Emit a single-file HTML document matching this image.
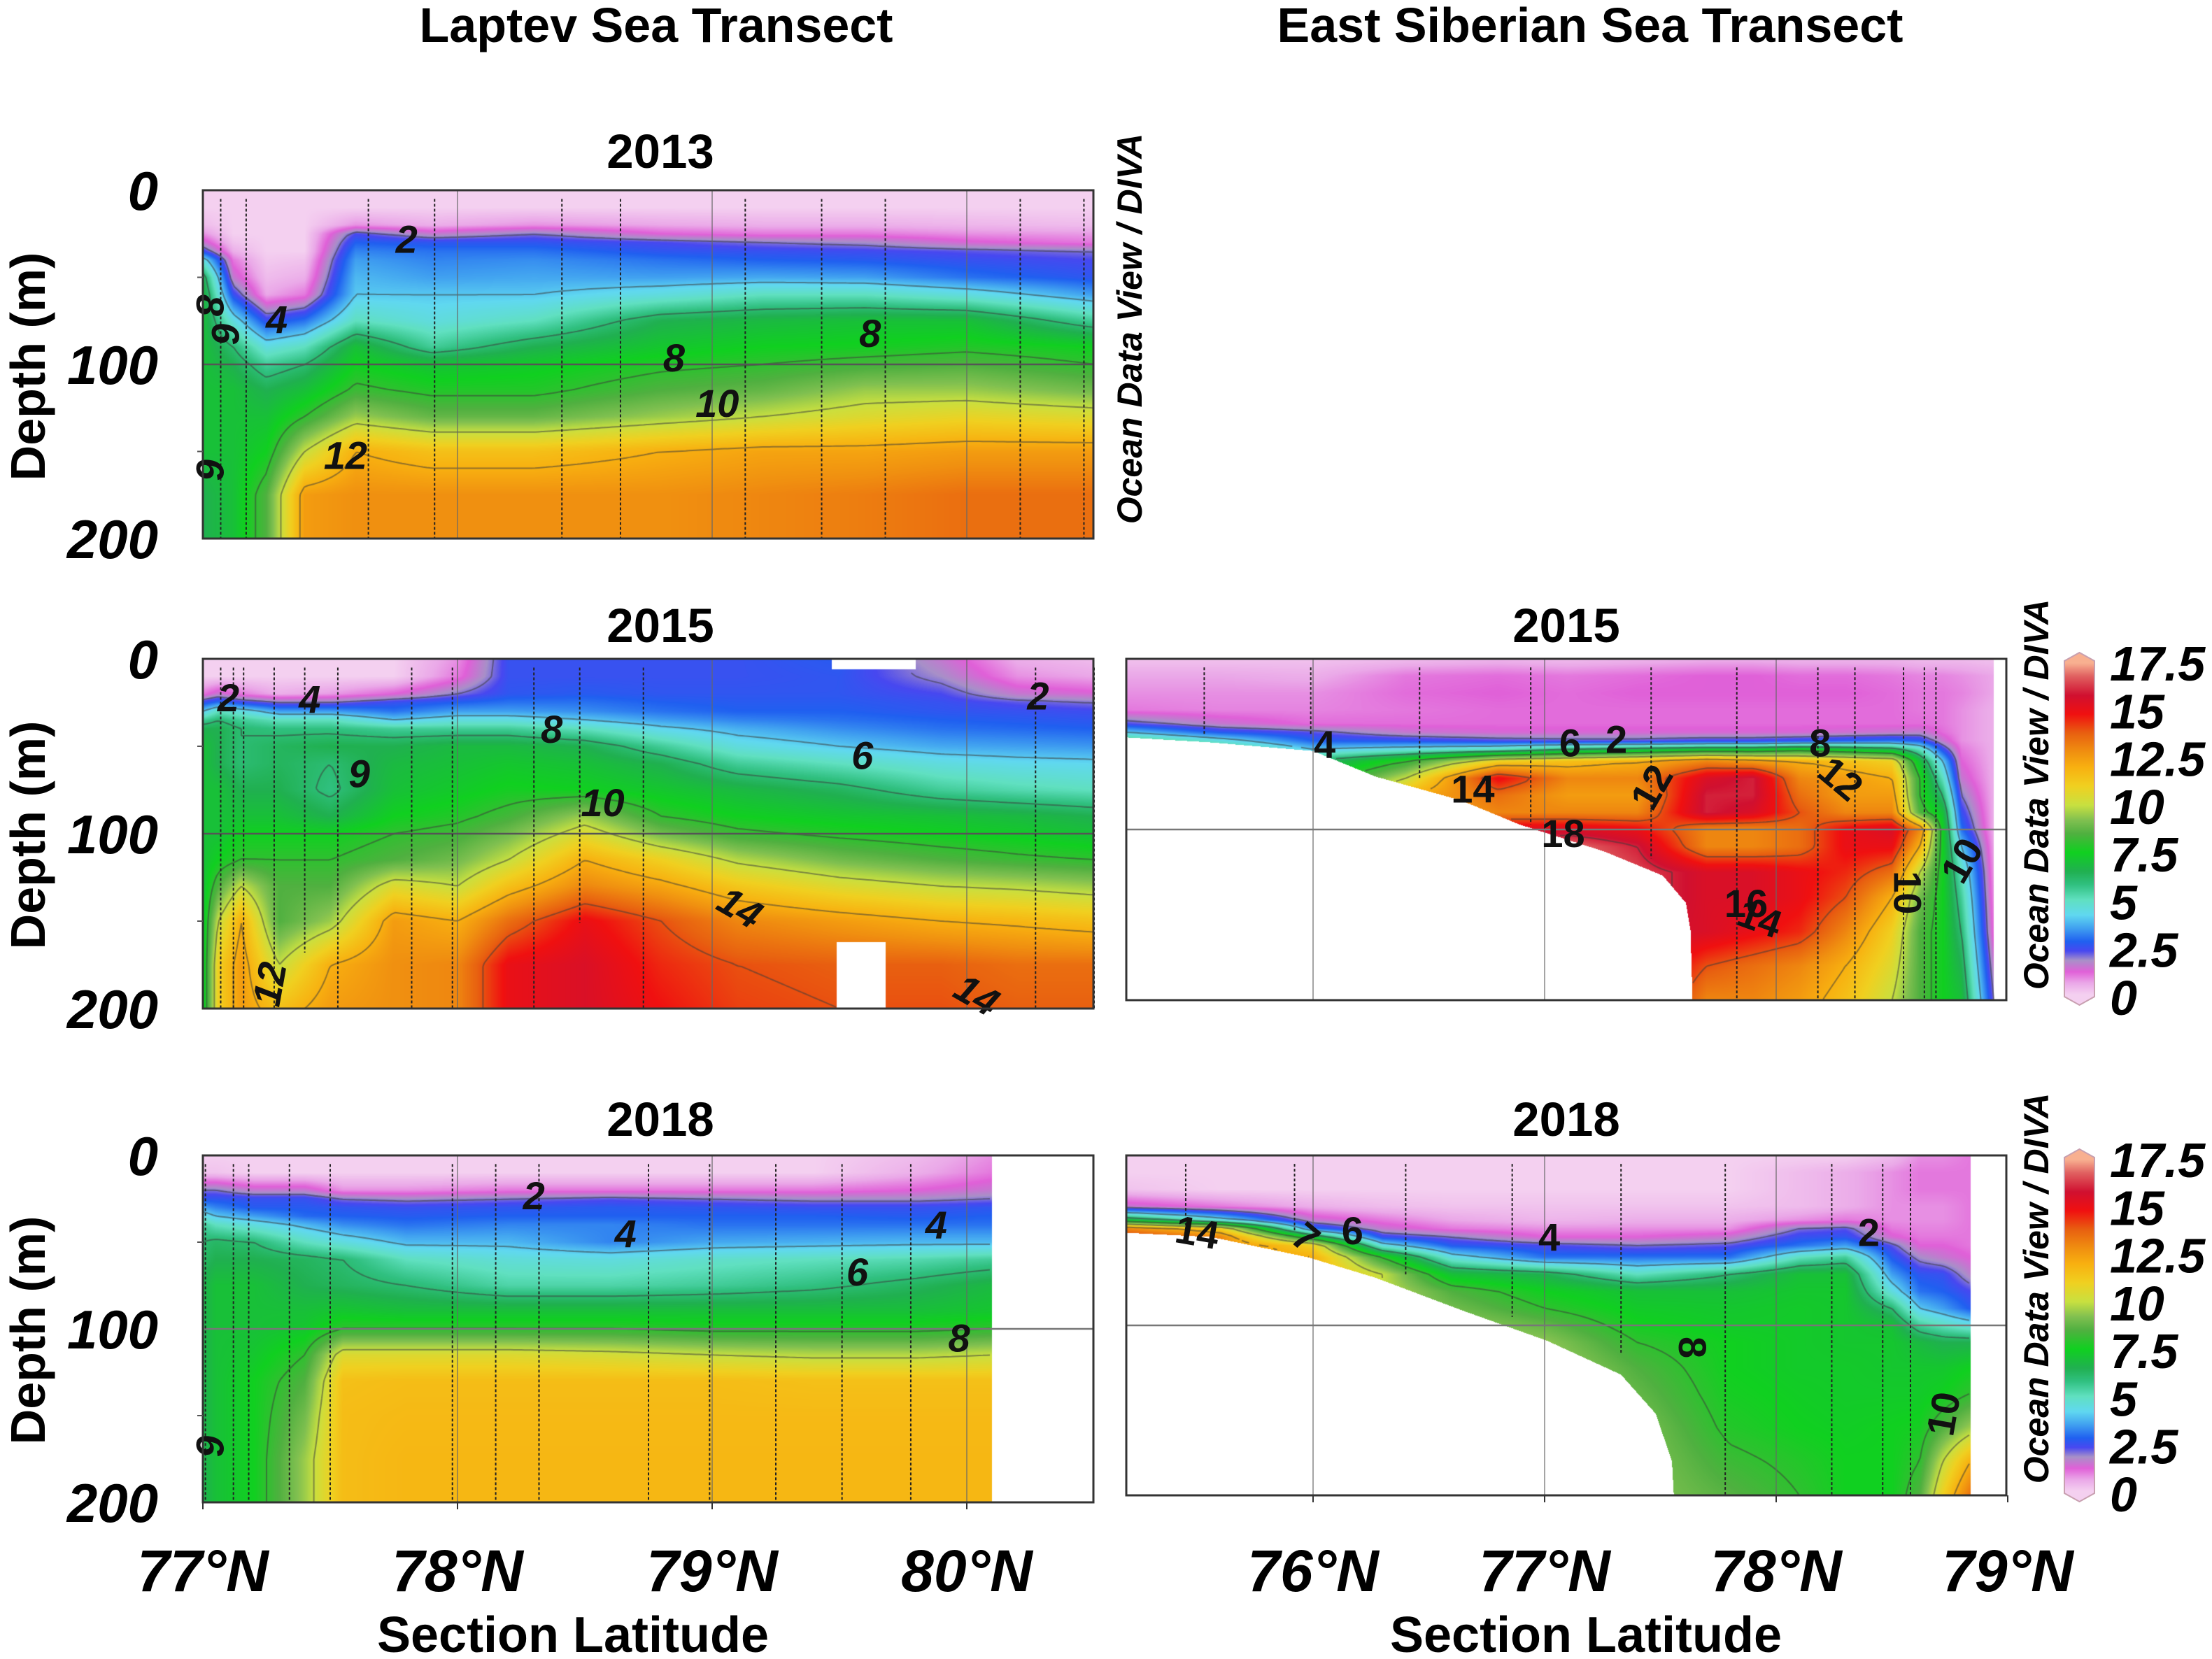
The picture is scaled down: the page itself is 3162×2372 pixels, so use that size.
<!DOCTYPE html>
<html><head><meta charset="utf-8">
<style>
html,body{margin:0;padding:0;background:#fff;}
#root{position:relative;width:3162px;height:2372px;overflow:hidden;background:#fff;font-family:"Liberation Sans",sans-serif;}
canvas{position:absolute;}
svg{position:absolute;left:0;top:0;}
</style></head>
<body>
<div id="root">
<svg id="ov" width="3162" height="2372" viewBox="0 0 3162 2372">
<defs>
<linearGradient id="cbg" x1="0" y1="1" x2="0" y2="0"></linearGradient>
</defs>
<g font-family="Liberation Sans, sans-serif" font-weight="bold" fill="#000">
<text x="938" y="60" font-size="70" text-anchor="middle">Laptev Sea Transect</text>
<text x="2273" y="60" font-size="70" text-anchor="middle">East Siberian Sea Transect</text>
<text x="944" y="240" font-size="69" text-anchor="middle">2013</text>
<text x="944" y="918" font-size="69" text-anchor="middle">2015</text>
<text x="2239" y="918" font-size="69" text-anchor="middle">2015</text>
<text x="944" y="1624" font-size="69" text-anchor="middle">2018</text>
<text x="2239" y="1624" font-size="69" text-anchor="middle">2018</text>
<text transform="translate(64,524) rotate(-90)" font-size="70" text-anchor="middle">Depth (m)</text>
<text transform="translate(64,1194) rotate(-90)" font-size="70" text-anchor="middle">Depth (m)</text>
<text transform="translate(64,1902) rotate(-90)" font-size="70" text-anchor="middle">Depth (m)</text>
<text x="819" y="2362" font-size="72" text-anchor="middle">Section Latitude</text>
<text x="2267" y="2362" font-size="72" text-anchor="middle">Section Latitude</text>
<g font-style="italic" font-size="50">
<text transform="translate(1632,470) rotate(-90)" text-anchor="middle">Ocean Data View / DIVA</text>
<text transform="translate(2928,1136) rotate(-90)" text-anchor="middle">Ocean Data View / DIVA</text>
<text transform="translate(2928,1842) rotate(-90)" text-anchor="middle">Ocean Data View / DIVA</text>
</g>
</g>
<g id="dyn"></g>
</svg>
</div>
<script>
// ---------- data ----------
const depthsL=[0,10,20,25,30,35,40,50,60,75,90,100,115,130,150,175,200];
const depthsE=[0,10,20,30,38,43,48,53,60,70,80,90,100,110,125,140,160,180,200];

const lats13=[77.0,77.12,77.25,77.4,77.6,77.9,78.3,78.8,79.2,79.6,80.0,80.5];
const temp13=[
[0,0,0,0,0,0,0,0,0,0,0,0],
[0,0,0,0,0,0,0,0,0,0,0,0],
[0.3,0,0,0,0.8,0.5,0.8,0.6,0.5,0.5,0.4,0.3],
[0.8,0,0,0,2.3,1.5,2,1.2,1,1,0.8,0.7],
[1.5,0.2,0,0,2.8,2.6,2.6,2.3,2.0,1.8,1.3,1.0],
[2.5,0.5,0,0,3.2,3.0,3.0,2.6,2.5,2.4,2.2,2.0],
[4.5,1.0,0.1,0.2,3.5,3.2,3.3,3.0,2.8,2.7,2.5,2.3],
[6.5,1.5,0.3,0.5,3.8,3.5,3.6,3.5,3.6,3.5,3.0,2.6],
[7,2.5,0.6,1.0,4.0,4.0,4.0,4.5,5.0,5.0,4.5,3.5],
[7,4.5,2.5,3,5.0,4.5,5.0,6.5,6.8,7.0,7.0,5.5],
[7,6,4.5,5,7.0,5.5,6.5,7.2,7.5,7.6,7.8,7.5],
[7,6.5,5.5,6,7.5,7.0,7.3,7.8,8.0,8.3,8.5,8.0],
[7,7,6.5,7,8.2,7.8,7.8,8.5,8.8,9.5,9.5,9.0],
[7,7,7,8,9.5,8.8,8.8,9.5,10.0,10.5,10.8,10.5],
[7,7,7.5,10,12.0,11.5,11.5,12.0,12.3,12.3,12.5,12.5],
[6.5,7,8.5,12.5,12.8,12.8,12.8,12.8,13.0,13.2,13.5,13.5],
[6.5,7,8.5,12.5,12.8,12.8,12.8,12.8,13.0,13.2,13.5,13.5]];
const stations13=[77.07,77.17,77.65,77.91,78.41,78.64,79.13,79.43,79.68,80.21,80.46];
const stEnd13=[200,200,200,200,200,200,200,200,200,200,200];

const lats15L=[77.0,77.06,77.15,77.3,77.5,77.75,78.0,78.2,78.5,78.8,79.1,79.5,79.9,80.2,80.5];
const temp15L=[
[0,0,0,0,0,0,0.8,2.5,2.5,2.5,2.5,2.7,1.5,0.5,0.3],
[0,0,0,0,0,0,1.0,2.5,2.5,2.5,2.5,2.6,1.8,0.8,0.6],
[1,1.5,1,0.5,0.7,1.2,2.0,2.6,2.7,2.6,2.6,2.6,2.3,1.5,1.3],
[2.5,3,2.5,2,2,2.5,2.8,3.0,3.0,2.8,2.7,2.7,2.5,2.2,2.0],
[4,5,4.5,3.5,3.5,3.0,3.5,3.5,3.3,3.0,2.8,2.8,2.6,2.5,2.4],
[5.5,6,5.5,5,5,4.0,4.5,4.5,4.0,3.5,3.2,3.0,2.8,2.7,2.6],
[6.5,6.5,6,5.8,5.8,5.5,5.5,5.5,5.0,4.2,3.7,3.3,3.0,2.9,2.8],
[7,6.5,6,6.3,6.5,6.5,6.8,6.8,6.5,5.5,4.5,4.0,3.6,3.5,3.4],
[7,6.5,6,6.3,6.0,6.8,7.0,7.2,7.0,6.5,5.5,5.0,4.5,4.3,4.2],
[7,7,6.5,6.5,5.8,7.0,7.3,7.6,7.5,7.2,6.8,6.3,5.5,5.2,5.0],
[7,7,7,7,6.5,7.5,7.8,8.3,9.5,8.0,7.5,7.2,7.0,6.8,6.5],
[7,7,7.5,7.5,7.5,8.0,8.3,9.0,10.5,9.0,8.2,7.8,7.5,7.3,7.0],
[7,7.5,8,8,8,8.5,9.0,10.0,12.0,11.0,9.8,9.0,8.5,8.2,8.0],
[7,8.5,10,8.5,8.5,10.5,10.0,11.5,13.0,12.3,11.3,10.5,10.0,9.8,9.5],
[7,10,12,8.5,9.5,12.5,12.0,13.5,15.0,14.0,13.0,12.5,12.0,11.8,11.5],
[7,11,12.5,10,12,12.8,13.0,15.0,15.5,14.5,14.0,13.8,13.8,13.5,13.5],
[7,11,12.5,11.5,12.5,12.8,13.0,15.0,15.5,14.8,14.2,14.0,14.0,13.8,13.8]];
const stations15L=[77.07,77.12,77.16,77.28,77.40,77.53,77.82,77.98,78.30,78.48,78.73,80.27,80.50];
const stEnd15L=[200,200,200,200,168,200,200,200,200,151,200,200,200];
const gaps15L=[[79.47,79.80,0,6],[79.49,79.68,162,200]];

const lats18L=[77.0,77.05,77.2,77.4,77.55,77.8,78.2,78.6,79.0,79.4,79.8,80.1];
const temp18L=[
[0,0,0,0,0,0,0,0,0,0,0.3,0.8],
[0.2,0.2,0,0,0,0,0,0,0,0,0.5,1.0],
[2.0,2.0,1.5,1.5,0.8,0.8,1.0,1.0,1.0,1.0,1.2,1.5],
[2.6,2.6,2.5,2.5,2.0,1.8,2.0,2.2,2.0,1.8,1.8,2.0],
[3.5,3.2,2.7,2.7,2.6,2.5,2.6,2.7,2.6,2.5,2.5,2.6],
[4.5,4.0,3.5,2.9,2.8,2.7,2.8,2.8,2.8,2.8,2.7,2.8],
[5.5,5.0,4.5,3.8,3.3,3.0,3.2,3.2,3.0,3.0,3.0,3.0],
[6.0,6.2,6.0,5.0,4.5,3.8,3.8,3.2,3.6,3.7,3.8,3.8],
[6.2,6.5,6.5,6.3,6.0,5.0,4.6,4.5,4.8,5.0,5.2,5.5],
[6.5,7.0,7.0,6.5,6.3,6.0,5.3,5.3,5.5,5.8,6.3,6.8],
[6.5,7.0,7.0,7.0,7.2,7.0,7.0,7.0,7.0,7.0,7.0,7.2],
[6.5,7.0,7.0,7.2,8.0,8.0,8.0,8.0,7.8,7.8,7.8,8.0],
[6.5,7.0,7.2,8.0,10.5,10.5,10.5,10.3,10.0,9.8,9.8,10.0],
[6.5,7.0,7.5,8.5,11.5,11.6,11.6,11.6,11.6,11.5,11.5,11.5],
[6.5,7.0,7.5,9.0,11.6,11.7,11.7,11.7,11.7,11.7,11.7,11.7],
[6.5,7.0,7.5,9.5,11.6,11.8,11.8,11.8,11.8,11.8,11.8,11.8],
[6.5,7.0,7.5,9.5,11.6,11.8,11.8,11.8,11.8,11.8,11.8,11.8]];
const stations18L=[77.01,77.12,77.18,77.34,77.50,77.98,78.15,78.32,78.75,78.99,79.25,79.51,79.78];
const stEnd18L=[200,200,200,200,200,200,200,200,200,200,200,200,200];

const latsE15=[75.19,75.6,76.0,76.4,76.8,77.1,77.4,77.7,77.9,78.1,78.3,78.5,78.62,78.72,78.8,78.94];
const tempE15=[
[0.2,0.2,0.2,0.3,0.4,0.3,0.4,0.5,0.5,0.4,0.4,0.4,0.3,0.3,0.3,0.2],
[0.6,0.6,0.5,1.0,1.1,1.0,1.1,1.2,1.2,1.1,1.1,1.0,0.9,0.9,0.8,0.6],
[0.8,0.8,0.8,1.1,1.2,1.1,1.2,1.2,1.2,1.2,1.2,1.1,1.0,1.0,0.9,0.6],
[1.0,0.9,0.9,1.0,1.1,1.1,1.1,1.1,1.1,1.1,1.1,1.1,1.0,1.0,0.8,0.5],
[2.3,1.5,1.1,1.1,1.1,1.1,1.1,1.1,1.1,1.1,1.1,1.1,1.1,1.0,0.8,0.5],
[4.0,2.7,2.2,1.5,1.3,1.3,1.3,1.3,1.3,1.3,1.4,1.5,1.6,1.1,0.8,0.5],
[6.0,4.5,2.8,2.6,2.3,2.2,2.2,2.4,2.4,2.6,2.8,3.0,2.7,1.5,0.8,0.5],
[7.0,6.0,4.0,4.5,5.0,6.0,6.5,7.0,7.0,7.5,7.0,6.5,5.0,2.5,1.0,0.5],
[7.5,7.0,6.0,8.0,11.0,11.5,12.0,13.0,12.5,12.0,11.5,11.0,7.0,4.0,1.2,0.5],
[7.5,7.0,7.0,10.0,15.0,13.0,13.0,15.5,16.0,13.0,12.5,12.0,8.0,5.0,1.5,0.5],
[7.5,7.0,7.0,12.0,13.5,12.5,12.5,16.0,16.0,13.5,12.5,12.5,8.0,6.0,2.0,0.5],
[7.5,7,7,12,13,13,13,16,15.5,14,13,13,8.5,7,2.5,0.5],
[7.5,7,7,12,15.5,15.5,15.0,13.0,13.0,13.5,15.0,15.5,13,7.5,3,0.5],
[7.5,7,7,12,16,17.0,16.0,13.0,13.0,13.5,15.0,15.0,12,7.5,4,0.6],
[7.5,7,7,12,16,17.5,16.5,15.5,15.5,15.0,14.5,13.5,10,7.5,5,0.7],
[7.5,7,7,12,16,17.5,16.5,15.5,15.5,15.0,14.0,12.0,9,7.5,5.5,0.8],
[7.5,7,7,12,16,17.5,16,15.5,15.0,14.5,13.0,11.0,8.5,7.5,6,1],
[7.5,7,7,12,16,17.5,16,14.0,13.5,13.0,12.0,10.5,8.5,7.5,6.5,1.5],
[7.5,7,7,12,16,17.5,16,13.0,13.0,12.5,11.5,10.0,8.5,7.5,7,2]];
const bathyLatsE15=[75.19,75.56,76.0,76.27,76.64,76.89,77.26,77.51,77.61,77.63,77.64];
const bathyDepE15=[46,49,54,69,83,97,113,127,143,159,205];
const stationsE15=[75.53,75.99,76.46,76.94,77.46,77.83,78.18,78.34,78.55,78.64,78.69];
const stEndE15=[45,45,71,97,117,200,200,200,200,200,200];

const latsE18=[75.19,75.6,76.0,76.3,76.6,77.0,77.4,77.8,78.1,78.3,78.5,78.62,78.72,78.84];
const tempE18=[
[0,0,0,0,0,0,0,0,0,0,0.3,0.8,0.8,1.0],
[0,0,0,0,0,0,0,0,0.3,0.5,0.8,1,1,1.0],
[0.2,0,0,0,0,0,0,0,0.3,0.5,0.8,1,1,1.0],
[1.5,1.0,0.5,0.3,0.2,0.2,0.2,0.2,0.3,0.5,0.8,0.8,0.8,1.0],
[7,4.5,1.5,1.0,0.6,0.4,0.5,0.5,0.8,1.0,0.8,0.8,0.8,1.0],
[13,11,3.0,1.5,1.0,0.8,0.8,0.8,2.0,2.2,1.0,0.9,0.9,1.0],
[14.5,13,7,2.5,2.0,1.2,1.2,1.5,2.5,2.6,1.3,1.0,1.0,1.0],
[14.5,13,11,4.5,2.7,2.3,2.0,2.2,3.0,3.5,2.2,1.2,1.2,1.0],
[14.5,13,12,8,4.5,3.0,3.0,3.0,5.0,5.5,2.7,1.8,1.5,1.2],
[14.5,13,12,10,7.0,6.5,5.0,6.0,7.0,7.0,3.5,2.6,2.5,1.6],
[14.5,13,12,10,8.5,7.5,7.0,7.0,7.2,7.2,4.5,3.0,2.8,2.3],
[14.5,13,12,10,9.0,8.0,7.3,7.2,7.3,7.2,6.0,4.0,3.5,2.7],
[14.5,13,12,10,9.5,8.8,7.6,7.3,7.3,7.2,7.0,5.5,5.0,4.5],
[14.5,13,12,10,9.8,9.4,8.0,7.5,7.3,7.2,7.2,6.8,6.5,6.5],
[14.5,13,12,10,10,9.8,8.5,7.5,7.3,7.3,7.2,7.2,7.2,7.5],
[14.5,13,12,10,10,9.8,8.8,7.6,7.4,7.3,7.3,7.3,7.5,8.0],
[14.5,13,12,10,10,9.8,9.2,7.8,7.5,7.4,7.5,7.6,8.5,9.5],
[14.5,13,12,10,10,9.8,9.3,8.2,7.8,7.5,7.5,8.0,10.0,12.0],
[14.5,13,12,10,10,9.8,9.3,8.6,8.0,7.5,7.5,8.5,11.0,13.5]];
const bathyLatsE18=[75.19,75.56,75.98,76.27,76.64,77.01,77.33,77.48,77.55,77.56];
const bathyDepE18=[45.5,48,60,72,91,109,129,152,180,205];
const stationsE18=[75.45,75.92,76.40,76.86,77.33,77.78,78.24,78.46,78.58];
const stEndE18=[48,45,71,95,117,200,200,200,200];

const labels13=[[77.8,28,'2',0],[77.29,74,'4',0],[78.85,96,'8',0],[79.62,82,'8',0],[79.02,122,'10',0],[77.56,152,'12',0],[77.03,66,'8',90],[77.09,82,'6',90],[77.03,160,'6',90]];
const labels15L=[[77.10,22,'2',0],[77.42,23,'4',0],[77.62,66,'6',180],[78.37,40,'8',0],[78.57,82,'10',0],[79.59,55,'6',0],[80.28,21,'2',0],[79.11,142,'14',30],[77.26,186,'12',-80],[80.04,192,'14',30]];
const labels18L=[[78.30,23,'2',0],[78.66,45,'4',0],[79.88,40,'4',0],[79.57,67,'6',0],[79.97,105,'8',0],[77.03,167,'6',90]];
const labelsE15=[[76.05,50,'4',0],[77.11,49,'6',0],[77.31,47,'2',0],[78.19,49,'8',0],[78.28,70,'12',40],[77.46,75,'12',-60],[76.69,76,'14',0],[77.08,102,'18',0],[77.87,143,'16',0],[77.93,152,'14',20],[78.57,137,'10',90],[78.80,118,'10',-60]];
const labelsE18=[[75.50,45,'14',10],[75.97,48,'7',40],[76.17,44,'6',0],[77.02,48,'4',0],[78.40,45,'2',0],[77.64,113,'8',90],[78.72,152,'10',-80]];

const cbTicks=['0','2.5','5','7.5','10','12.5','15','17.5'];
const xTicksL=[77,78,79,80];
const xTicksE=[76,77,78,79];
const yTicks=[0,100,200];

// colour map (style)
const cmapV=[0,0.6,1.2,1.8,2.3,2.8,3.5,4.2,5.0,5.8,6.5,7.5,8.5,9.2,10,11,12,12.8,13.8,14.8,15.8,16.8,17.5];
const cmapC=['#f4d0f0','#eaa8e8','#e060d8','#a890c8','#4848f0','#2060f0','#40a0f0','#60d8f0','#60e0c0','#30c080','#20b050','#10d020','#50b040','#80c050','#c8e040','#f0d020','#f8b010','#f09010','#e86010','#f01010','#d01030','#e06060','#f8b090'];

// ---------- panels ----------
const panels=[
 {id:'laptev-2013',x0:290,y0:272,w:1273,h:498,lat0:77,lat1:77+1273/364,lats:lats13,depths:depthsL,temp:temp13,st:stations13,stEnd:stEnd13,labels:labels13,grid:[78,79,80],italic:true,hline:'#555'},
 {id:'laptev-2015',x0:290,y0:942,w:1273,h:500,lat0:77,lat1:77+1273/364,lats:lats15L,depths:depthsL,temp:temp15L,st:stations15L,stEnd:stEnd15L,labels:labels15L,grid:[78,79,80],gaps:gaps15L,italic:true,hline:'#555'},
 {id:'laptev-2018',x0:290,y0:1652,w:1273,h:496,lat0:77,lat1:77+1273/364,lats:lats18L,depths:depthsL,temp:temp18L,st:stations18L,stEnd:stEnd18L,labels:labels18L,grid:[78,79,80],dataEnd:80.10,italic:true,hline:'#777',xticks:xTicksL},
 {id:'ess-2015',x0:1610,y0:942,w:1258,h:488,lat0:76-267/331,lat1:76+991/331,lats:latsE15,depths:depthsE,temp:tempE15,st:stationsE15,stEnd:stEndE15,labels:labelsE15,grid:[76,77,78],bl:bathyLatsE15,bd:bathyDepE15,dataEnd:78.94,italic:false,hline:'#777',cb:true},
 {id:'ess-2018',x0:1610,y0:1652,w:1258,h:486,lat0:76-267/331,lat1:76+991/331,lats:latsE18,depths:depthsE,temp:tempE18,st:stationsE18,stEnd:stEndE18,labels:labelsE18,grid:[76,77,78],bl:bathyLatsE18,bd:bathyDepE18,dataEnd:78.84,italic:false,hline:'#777',cb:true,xticks:xTicksE}
];

function hex(c){return [parseInt(c.substr(1,2),16),parseInt(c.substr(3,2),16),parseInt(c.substr(5,2),16)];}
const cRGB=cmapC.map(hex);
function colorOf(v){
 if(v<=cmapV[0])return cRGB[0];
 for(let i=0;i<cmapV.length-1;i++){
  if(v<=cmapV[i+1]){const t=(v-cmapV[i])/(cmapV[i+1]-cmapV[i]);const a=cRGB[i],b=cRGB[i+1];return [a[0]+(b[0]-a[0])*t,a[1]+(b[1]-a[1])*t,a[2]+(b[2]-a[2])*t];}
 }
 return cRGB[cRGB.length-1];
}
const LUT=[];for(let i=0;i<=1000;i++)LUT.push(colorOf(i*17.5/1000));
function seg(xs,x){let i=0;while(i<xs.length-2&&xs[i+1]<=x)i++;return i;}
function interp1(xs,ys,x){if(x<=xs[0])return ys[0];if(x>=xs[xs.length-1])return ys[ys.length-1];const i=seg(xs,x);return ys[i]+(ys[i+1]-ys[i])*(x-xs[i])/(xs[i+1]-xs[i]);}
function clamp(t){return t<0?0:t>1?1:t;}
function field(p,lat,d){
 const L=p.lats,D=p.depths,T=p.temp;
 const i=seg(L,lat),j=seg(D,d);
 const tx=clamp((lat-L[i])/(L[i+1]-L[i])),ty=clamp((d-D[j])/(D[j+1]-D[j]));
 return (T[j][i]*(1-tx)+T[j][i+1]*tx)*(1-ty)+(T[j+1][i]*(1-tx)+T[j+1][i+1]*tx)*ty;
}
function masked(p,lat,d){
 if(p.dataEnd&&lat>p.dataEnd)return true;
 if(p.bl&&d>interp1(p.bl,p.bd,lat))return true;
 if(p.gaps)for(const g of p.gaps){if(lat>=g[0]&&lat<=g[1]&&d>=g[2]&&d<=g[3])return true;}
 return false;
}
const root=document.getElementById('root');
const NS='http://www.w3.org/2000/svg';
const dyn=document.getElementById('dyn');
function mk(tag,attrs,parent){const e=document.createElementNS(NS,tag);for(const k in attrs)e.setAttribute(k,attrs[k]);(parent||dyn).appendChild(e);return e;}

panels.forEach(p=>{
 const X=lat=>p.x0+(lat-p.lat0)/(p.lat1-p.lat0)*p.w;
 const Y=d=>p.y0+d/200*p.h;
 const cv=document.createElement('canvas');
 cv.width=p.w;cv.height=p.h;cv.style.left=p.x0+'px';cv.style.top=p.y0+'px';
 
 
 root.insertBefore(cv,root.firstChild);
 const ctx=cv.getContext('2d');
 const img=ctx.createImageData(p.w,p.h);
 const latOf=px=>p.lat0+(px+0.5)/p.w*(p.lat1-p.lat0);
 for(let py=0;py<p.h;py++){
  const d=(py+0.5)/p.h*200;
  for(let px=0;px<p.w;px++){
   const lat=latOf(px);const k=(py*p.w+px)*4;
   if(masked(p,lat,d)){img.data[k]=255;img.data[k+1]=255;img.data[k+2]=255;img.data[k+3]=255;continue;}
   let v=field(p,lat,d);const c=LUT[Math.max(0,Math.min(1000,Math.round(v/17.5*1000)))];
   img.data[k]=c[0];img.data[k+1]=c[1];img.data[k+2]=c[2];img.data[k+3]=255;
  }
 }
 ctx.putImageData(img,0,0);
 const s=5,nx=Math.ceil(p.w/s)+1,ny=Math.ceil(p.h/s)+1,G=[];
 for(let gy=0;gy<ny;gy++){const row=[];const d=Math.min(200,gy*s/p.h*200);
  for(let gx=0;gx<nx;gx++){const lat=p.lat0+Math.min(p.w,gx*s)/p.w*(p.lat1-p.lat0);row.push(masked(p,lat,d)?NaN:field(p,lat,d));}G.push(row);}
 ctx.strokeStyle='rgba(60,60,60,0.55)';ctx.lineWidth=2;ctx.beginPath();
 [2,4,6,8,10,12,14,16].forEach(lv=>{
  for(let gy=0;gy<ny-1;gy++)for(let gx=0;gx<nx-1;gx++){
   const a=G[gy][gx],b=G[gy][gx+1],c=G[gy+1][gx+1],dd=G[gy+1][gx];
   if(isNaN(a)||isNaN(b)||isNaN(c)||isNaN(dd))continue;
   const pts=[];const x=gx*s,y=gy*s;
   if((a<lv)!==(b<lv))pts.push([x+s*(lv-a)/(b-a),y]);
   if((b<lv)!==(c<lv))pts.push([x+s,y+s*(lv-b)/(c-b)]);
   if((dd<lv)!==(c<lv))pts.push([x+s*(lv-dd)/(c-dd),y+s]);
   if((a<lv)!==(dd<lv))pts.push([x,y+s*(lv-a)/(dd-a)]);
   for(let q=0;q+1<pts.length;q+=2){ctx.moveTo(pts[q][0],pts[q][1]);ctx.lineTo(pts[q+1][0],pts[q+1][1]);}
  }
 });
 ctx.stroke();
 p.grid.forEach(g=>{
  const l=mk('line',{x1:X(g),x2:X(g),y1:p.y0,y2:p.y0+p.h,stroke:'#666','stroke-width':1.5,'stroke-opacity':0.8});
  
  
 });
 const hl=mk('line',{x1:p.x0,x2:p.x0+p.w,y1:Y(100),y2:Y(100),stroke:p.hline,'stroke-width':2.5});
 
 
 p.st.forEach((lat,i)=>{
  const l=mk('line',{x1:X(lat),x2:X(lat),y1:Y(5),y2:Y(p.stEnd[i]),stroke:'#222','stroke-width':2,'stroke-dasharray':'4 3'});
  
  
 });
 p.labels.forEach(lb=>{
  const x=X(lb[0]),y=Y(lb[1]);
  const t=mk('text',{x:x,y:y+20,'text-anchor':'middle','font-size':56,'font-weight':'bold','font-style':p.italic?'italic':'normal','font-family':'Liberation Sans, sans-serif',fill:'#111',transform:'rotate('+lb[3]+' '+x+' '+y+')'});
  t.textContent=lb[2];
  
  
 });
 const fr=mk('rect',{x:p.x0,y:p.y0,width:p.w,height:p.h,fill:'none',stroke:'#333','stroke-width':3});
 
 
 if(p.x0<1000){
  yTicks.forEach(v=>{
   const t=mk('text',{x:226,y:Y(v)+28,'text-anchor':'end','font-size':78,'font-weight':'bold','font-style':'italic','font-family':'Liberation Sans, sans-serif',fill:'#000'});
   t.textContent=String(v);
   
   
  });
  [50,150].forEach(v=>{
   const m=mk('line',{x1:p.x0-8,x2:p.x0,y1:Y(v),y2:Y(v),stroke:'#555','stroke-width':2});
   
   
  });
 }
 if(p.xticks){
  p.xticks.forEach(v=>{
   const t=mk('text',{x:X(v),y:2275,'text-anchor':'middle','font-size':84,'font-weight':'bold','font-style':'italic','font-family':'Liberation Sans, sans-serif',fill:'#000'});
   t.textContent=v+'°N';
   
   
   const m=mk('line',{x1:X(v),x2:X(v),y1:p.y0+p.h,y2:p.y0+p.h+10,stroke:'#333','stroke-width':2});
   
   
  });
 }
 if(p.cb){
  const off=p.y0-942;
  const top=933+off,bot=1437+off,x1=2951,x2=2994,xm=2972.5;
  const poly=mk('polygon',{points:[xm,top,x2,top+12,x2,bot-12,xm,bot,x1,bot-12,x1,top+12].join(' '),fill:'url(#cbg)',stroke:'#c8a0b0','stroke-width':2});
  
  
  const v0=1426+off,v1=948+off;
  cbTicks.forEach((tk,i)=>{
   const y=v0+(v1-v0)*parseFloat(tk)/17.5;
   const t=mk('text',{x:3016,y:y+25,'font-size':70,'font-weight':'bold','font-style':'italic','font-family':'Liberation Sans, sans-serif',fill:'#000'});
   t.textContent=tk;
   
   
  });
 }
});
const gr=document.getElementById('cbg');
cmapV.forEach((v,i)=>{const st=document.createElementNS(NS,'stop');st.setAttribute('offset',(0.03+0.94*v/17.5).toFixed(4));st.setAttribute('stop-color',cmapC[i]);gr.appendChild(st);});
</script>
</body></html>
